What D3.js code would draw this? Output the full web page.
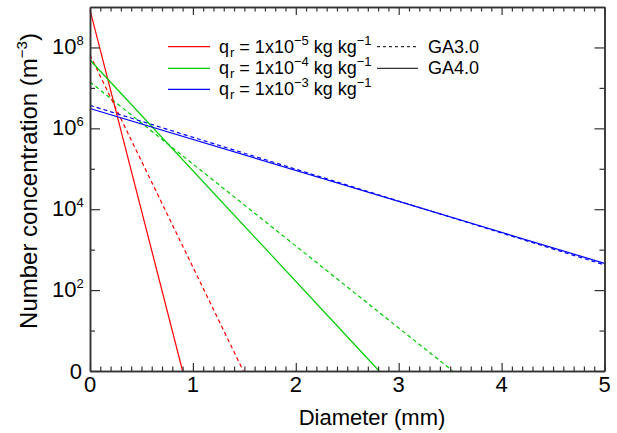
<!DOCTYPE html>
<html><head><meta charset="utf-8">
<script src="https://cdn.jsdelivr.net/npm/d3@7"></script>
<style>
body{margin:0;background:#fff;}
svg{display:block;font-family:"Liberation Sans",Arial,sans-serif;}
</style></head>
<body>
<svg id="chart" width="617" height="433"></svg>
<script>
// ---- data ----
const diamDomain = [0, 5];            // mm
const concDomain = [1, 1e9];          // m^-3
const xMajorTicks = [0, 1, 2, 3, 4, 5];
const yMajorTicks = [1, 1e2, 1e4, 1e6, 1e8];
const yMinorTicks = [1e1, 1e3, 1e5, 1e7];
const yTickExp = ["0", "2", "4", "6", "8"];

const seriesNames = ["1x10^-5", "1x10^-4", "1x10^-3"];
const seriesColors = ["#ff0000", "#00cc00", "#0000ff"];
// [diameter (mm), concentration (m^-3)] start/end points of each line
const ga4Red   = [[0, 8.5e8], [0.90, 1]];
const ga3Red   = [[0, 6.5e7], [1.49, 1]];
const ga4Green = [[0, 4.9e7], [2.81, 1]];
const ga3Green = [[0, 1.4e7], [3.525, 1]];
const ga4Blue  = [[0, 3.1e6], [5, 460]];
const ga3Blue  = [[0, 3.7e6], [5, 420]];
const ga3 = [ga3Red, ga3Green, ga3Blue];
const ga4 = [ga4Red, ga4Green, ga4Blue];
const exponents = ["\u22125", "\u22124", "\u22123"];

// ---- layout ----
const L = 90, R = 604.5, T = 7, B = 371;
const svg = d3.select("#chart");
const x = d3.scaleLinear().domain(diamDomain).range([L, R]);
const y = d3.scaleLog().domain(concDomain).range([B, T]);
const axisColor = "#333";

// lines
const line = d3.line().x(d => x(d[0])).y(d => y(d[1]));
const g = svg.append("g");
ga3.forEach((s, i) => g.append("path").attr("d", line(s)).attr("fill", "none")
  .attr("stroke", seriesColors[i]).attr("stroke-width", 1.2).attr("stroke-dasharray", "4,3"));
ga4.forEach((s, i) => g.append("path").attr("d", line(s)).attr("fill", "none")
  .attr("stroke", seriesColors[i]).attr("stroke-width", 1.2));

// axes (ticks pointing inward)
const xMinor = d3.range(0, 51).map(v => v / 10).filter(v => !xMajorTicks.includes(v));
function styleAxis(sel) {
  sel.selectAll("path").attr("stroke", axisColor).attr("stroke-width", 1.5);
  sel.selectAll("line").attr("stroke", axisColor).attr("stroke-width", 1.2);
  sel.selectAll("text").remove();
}
svg.append("g").attr("transform", `translate(0,${B})`)
  .call(d3.axisBottom(x).tickValues(xMajorTicks).tickSizeInner(-8).tickSizeOuter(0)).call(styleAxis);
svg.append("g").attr("transform", `translate(0,${B})`)
  .call(d3.axisBottom(x).tickValues(xMinor).tickSizeInner(-4.5).tickSizeOuter(0)).call(styleAxis);
svg.append("g").attr("transform", `translate(0,${T})`)
  .call(d3.axisTop(x).tickValues(xMajorTicks).tickSizeInner(-8).tickSizeOuter(0)).call(styleAxis);
svg.append("g").attr("transform", `translate(0,${T})`)
  .call(d3.axisTop(x).tickValues(xMinor).tickSizeInner(-4.5).tickSizeOuter(0)).call(styleAxis);
svg.append("g").attr("transform", `translate(${L},0)`)
  .call(d3.axisLeft(y).tickValues(yMajorTicks).tickSizeInner(-10).tickSizeOuter(0)).call(styleAxis);
svg.append("g").attr("transform", `translate(${L},0)`)
  .call(d3.axisLeft(y).tickValues(yMinorTicks).tickSizeInner(-5).tickSizeOuter(0)).call(styleAxis);
svg.append("g").attr("transform", `translate(${R},0)`)
  .call(d3.axisRight(y).tickValues(yMajorTicks).tickSizeInner(-10).tickSizeOuter(0)).call(styleAxis);
svg.append("g").attr("transform", `translate(${R},0)`)
  .call(d3.axisRight(y).tickValues(yMinorTicks).tickSizeInner(-5).tickSizeOuter(0)).call(styleAxis);

// x tick labels
svg.append("g").selectAll("text").data(xMajorTicks).join("text")
  .attr("x", d => x(d)).attr("y", B + 21).attr("text-anchor", "middle")
  .attr("font-size", 22).text(d => d);

// y tick labels
yMajorTicks.forEach((v, i) => {
  if (i === 0) {
    svg.append("text").attr("x", 82).attr("y", y(v) + 8).attr("text-anchor", "end")
      .attr("font-size", 22).text("0");
  } else {
    const t = svg.append("text").attr("x", 52).attr("y", y(v) + 7).attr("font-size", 22);
    t.append("tspan").text("10");
    t.append("tspan").attr("dy", -9).attr("font-size", 13).text(yTickExp[i]);
  }
});

// axis titles
svg.append("text").attr("x", 372).attr("y", 425).attr("text-anchor", "middle")
  .attr("font-size", 22).text("Diameter (mm)");
const yt = svg.append("text").attr("transform", `translate(37,181) rotate(-90)`)
  .attr("text-anchor", "middle").attr("font-size", 24);
yt.append("tspan").text("Number concentration (m");
yt.append("tspan").attr("dy", -10).attr("font-size", 15).text("\u22123");
yt.append("tspan").attr("dy", 10).text(")");

// legend
const legY = [46.7, 68.3, 89.3];
seriesNames.forEach((n, i) => {
  svg.append("line").attr("x1", 168).attr("x2", 210).attr("y1", legY[i]).attr("y2", legY[i])
    .attr("stroke", seriesColors[i]).attr("stroke-width", 1.2);
  const t = svg.append("text").attr("x", 219).attr("y", legY[i] + 6).attr("font-size", 18);
  t.append("tspan").text("q");
  t.append("tspan").attr("dx", 1).attr("dy", 4).attr("font-size", 13).text("r");
  t.append("tspan").attr("dx", 5).attr("dy", -4).text("= 1x10");
  t.append("tspan").attr("dy", -8).attr("font-size", 13).text(exponents[i]);
  t.append("tspan").attr("dy", 8).text(" kg kg");
  t.append("tspan").attr("dy", -8).attr("font-size", 13).text("\u22121");
});
const gaNames = ["GA3.0", "GA4.0"];
const gaDash = ["3,3", null];
gaNames.forEach((n, i) => {
  svg.append("line").attr("x1", 377).attr("x2", 418).attr("y1", legY[i]).attr("y2", legY[i])
    .attr("stroke", "#000").attr("stroke-width", 1).attr("stroke-dasharray", gaDash[i]);
  svg.append("text").attr("x", 428).attr("y", legY[i] + 6).attr("font-size", 18).text(n);
});
</script>
</body></html>
